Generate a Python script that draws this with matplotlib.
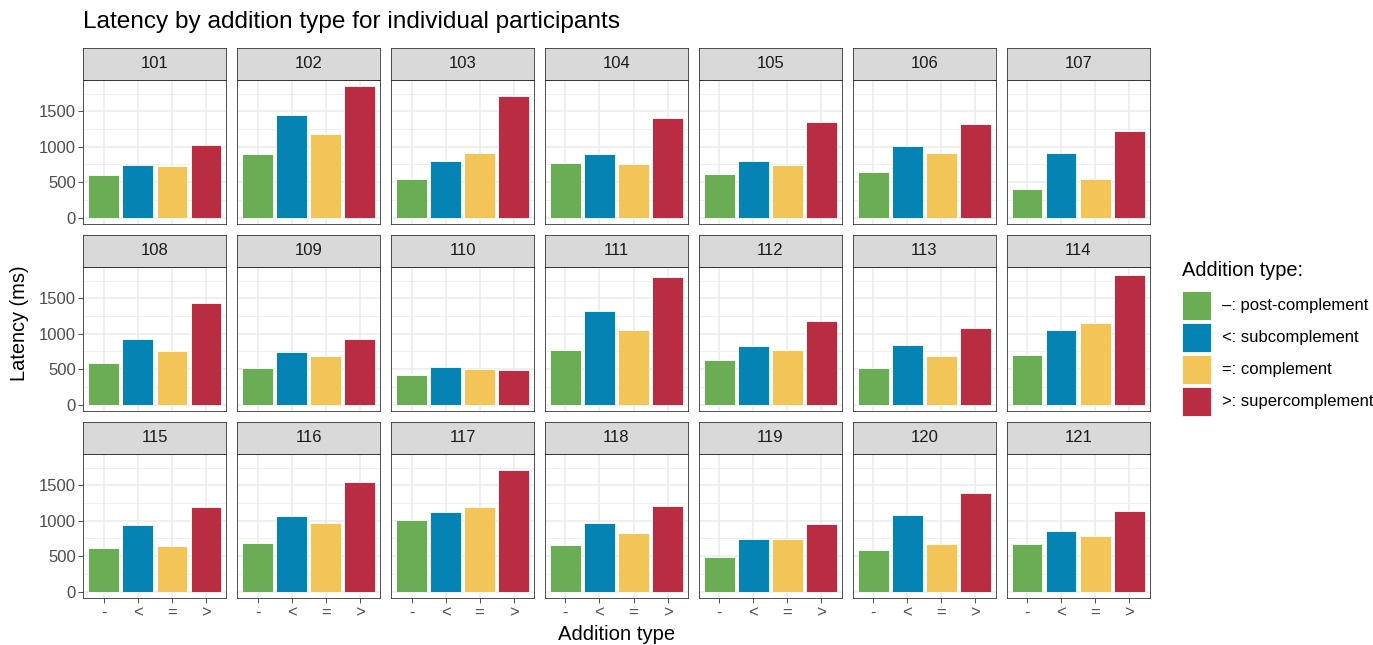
import matplotlib
matplotlib.use("Agg")
import matplotlib.pyplot as plt
from matplotlib.patches import Rectangle

plt.rcParams["font.family"] = ["Liberation Sans", "DejaVu Sans"]

# mean latency (ms) per participant and addition type
participants = [str(p) for p in range(101, 122)]
post_complement = [603, 902, 551, 776, 621, 645, 407, 590, 509, 420, 769,
                   632, 514, 698, 619, 679, 1012, 651, 487, 590, 670]
subcomplement = [748, 1444, 794, 897, 804, 1009, 911, 929, 741, 533, 1325,
                 825, 835, 1047, 937, 1068, 1129, 961, 740, 1078, 853]
complement = [724, 1173, 911, 757, 748, 911, 551, 755, 679, 505, 1057,
              769, 689, 1146, 647, 970, 1195, 825, 740, 670, 787]
supercomplement = [1019, 1855, 1720, 1411, 1350, 1318, 1215, 1439, 929, 481, 1807,
                   1175, 1080, 1830, 1195, 1546, 1715, 1209, 949, 1392, 1139]

type_ticks = ["-", "<", "=", ">"]
type_labels = ["\u2013: post-complement", "<: subcomplement",
               "=: complement", ">: supercomplement"]
colors = ["#6AAD54", "#0583B4", "#F3C457", "#BA2C42"]

W, H = 1373, 645
fig = plt.figure(figsize=(W / 100, H / 100), dpi=100)

ymax = max(post_complement + subcomplement + complement + supercomplement)
ylim = (-0.05 * ymax, 1.05 * ymax)

ncol = 7
left0, col_step, pw = 83.3, 153.9, 143.0
top0, row_step, strip_h, panel_h = 48.3, 187.0, 31.3, 144.5
border = "#333333"
grid = "#EBEBEB"

for i, pid in enumerate(participants):
    r, c = divmod(i, ncol)
    x0 = left0 + c * col_step
    strip_top = top0 + r * row_step
    panel_top = strip_top + strip_h
    ax = fig.add_axes([x0 / W, 1 - (panel_top + panel_h) / H, pw / W, panel_h / H])
    sax = fig.add_axes([x0 / W, 1 - panel_top / H, pw / W, strip_h / H])

    vals = [post_complement[i], subcomplement[i], complement[i], supercomplement[i]]
    ax.bar(range(4), vals, width=0.9, color=colors, edgecolor="white",
           linewidth=0.6, zorder=3)
    ax.set_xlim(-0.6, 3.6)
    ax.set_ylim(*ylim)
    ax.set_xticks(range(4))
    ax.set_yticks([0, 500, 1000, 1500])
    ax.set_yticks([250, 750, 1250, 1750], minor=True)
    ax.grid(True, which="major", color=grid, linewidth=1.1, zorder=0)
    ax.grid(True, which="minor", axis="y", color=grid, linewidth=0.55, zorder=0)
    for s in ax.spines.values():
        s.set_color(border)
        s.set_linewidth(0.6)
    ax.tick_params(which="minor", length=0)
    ax.tick_params(which="major", length=3.5, width=0.6, color=border,
                   labelsize=12, labelcolor="#4D4D4D", pad=2)
    if c == 0:
        ax.set_yticklabels(["0", "500", "1000", "1500"])
    else:
        ax.tick_params(axis="y", length=0, labelleft=False)
    if r == 2:
        ax.set_xticklabels(type_ticks)
    else:
        ax.tick_params(axis="x", length=0, labelbottom=False)

    # facet strip
    sax.set_facecolor("#D9D9D9")
    sax.set_xticks([])
    sax.set_yticks([])
    for s in sax.spines.values():
        s.set_color(border)
        s.set_linewidth(0.6)
    sax.text(0.5, 0.5, pid, ha="center", va="center", fontsize=12,
             color="#1A1A1A", transform=sax.transAxes)

fig.text(83 / W, 1 - 22 / H, "Latency by addition type for individual participants",
         fontsize=17.6, ha="left", va="center")
fig.text(20 / W, 1 - 323 / H, "Latency (ms)", rotation=90, fontsize=14.4,
         ha="center", va="center")
fig.text(616.5 / W, 1 - 634 / H, "Addition type", fontsize=14.6,
         ha="center", va="center")

# legend: square keys stacked under the title
key_x, key_top, key_size, key_step = 1181.5, 290.5, 29.5, 32.0
fig.text(key_x / W, 1 - 271 / H, "Addition type:", fontsize=14.4,
         ha="left", va="center")
for k, (col, lab) in enumerate(zip(colors, type_labels)):
    top = key_top + k * key_step
    fig.add_artist(Rectangle((key_x / W, 1 - (top + key_size) / H),
                             key_size / W, key_size / H, facecolor=col,
                             edgecolor="white", linewidth=0.6,
                             transform=fig.transFigure))
    fig.text(1222.5 / W, 1 - (top + key_size / 2) / H, lab, fontsize=12,
             ha="left", va="center")

fig.savefig("out.png", dpi=100)
